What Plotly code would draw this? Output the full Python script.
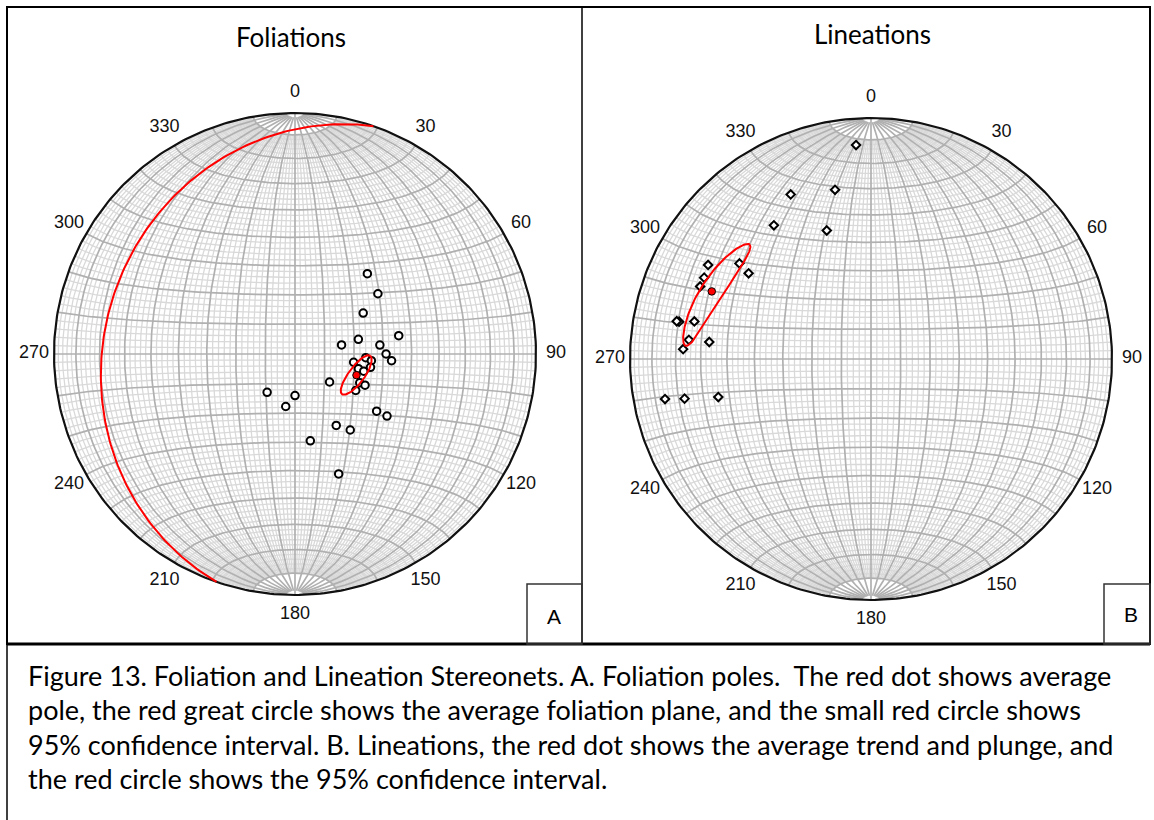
import numpy as np
import plotly.graph_objects as go

W, H = 1154, 820

# ---------------- data (trend, plunge in degrees) ----------------
fol_trend = [42, 54, 59, 80, 77, 79, 84, 90, 94, 93, 95, 98, 103, 104, 114, 114, 121, 129,
             216, 180, 190, 125, 124, 150, 144, 170, 160, 100]
fol_plunge = [53, 55, 63, 54, 68, 74, 61, 59, 57, 66, 64, 70, 68, 66, 66, 64, 66, 75,
              74, 76, 72, 56, 52, 62, 58, 60, 46, 64]
fol_mean_trend, fol_mean_plunge = 109, 68
fol_cone_major, fol_cone_minor, fol_cone_azimuth = 7.9, 2.7, 37

lin_trend = [356, 348, 334, 324, 341, 305, 306, 300, 296, 293, 281, 281, 282, 276, 276, 273,
             259, 258, 256]
lin_plunge = [12, 29, 25, 32, 43, 38, 33, 23, 24, 24, 20, 19, 26, 25, 33, 23, 14, 22, 35]
lin_mean_trend, lin_mean_plunge = 293, 29
lin_cone_major, lin_cone_minor, lin_cone_azimuth = 17.7, 4.3, 36

tick_angles = list(range(0, 360, 30))
tick_labels = [str(a) for a in tick_angles]

panel_titles = ["Foliations", "Lineations"]
panel_letters = ["A", "B"]
caption_lines = [
    "Figure 13. Foliation and Lineation Stereonets. A. Foliation poles.  The red dot shows average",
    "pole, the red great circle shows the average foliation plane, and the small red circle shows",
    "95% confidence interval. B. Lineations, the red dot shows the average trend and plunge, and",
    "the red circle shows the 95% confidence interval.",
]

# ---------------- geometry helpers (equal-area, lower hemisphere) ----------------
def vec(trend, plunge):
    t, p = np.radians(trend), np.radians(plunge)
    return np.array([np.cos(p) * np.sin(t), np.cos(p) * np.cos(t), np.sin(p)])


def project(v):
    e, n, d = v
    f = 1.0 / np.sqrt(1.0 + d)
    return e * f, n * f


def add_seg(xs, ys, x, y):
    xs.extend(list(x) + [None])
    ys.extend(list(y) + [None])


def net_lines():
    mnx, mny, mjx, mjy = [], [], [], []
    for a in range(2, 180, 2):
        al = np.radians(a)
        major = a % 10 == 0
        cut = 0 if a == 90 else (2 if major else 10)
        b = np.radians(np.linspace(-90 + cut, 90 - cut, 121))
        v = np.array([np.cos(b) * np.cos(al), np.sin(b), np.cos(b) * np.sin(al)])
        x, y = project(v)
        if major:
            add_seg(mjx, mjy, x, y)
        else:
            add_seg(mnx, mny, x, y)
    for g in range(10, 171, 2):
        gm = np.radians(g)
        al = np.radians(np.linspace(0, 180, 121))
        v = np.array([np.sin(gm) * np.cos(al), np.cos(gm) * np.ones_like(al), np.sin(gm) * np.sin(al)])
        x, y = project(v)
        if g % 10 == 0:
            add_seg(mjx, mjy, x, y)
        else:
            add_seg(mnx, mny, x, y)
    return mnx, mny, mjx, mjy


def great_circle(pole_trend, pole_plunge):
    s = np.array([np.cos(np.radians(pole_trend)), -np.sin(np.radians(pole_trend)), 0.0])
    w = vec(pole_trend + 180, 90 - pole_plunge)
    ph = np.radians(np.linspace(0, 180, 181))
    v = np.outer(s, np.cos(ph)) + np.outer(w, np.sin(ph))
    return project(v)


def cone(trend, plunge, a1, a2, azimuth):
    t, p = np.radians(trend), np.radians(plunge)
    m = vec(trend, plunge)
    r_hat = np.array([np.sin(p) * np.sin(t), np.sin(p) * np.cos(t), -np.cos(p)])
    t_hat = np.array([np.cos(t), -np.sin(t), 0.0])
    psi = np.radians(azimuth - trend)
    u1 = np.cos(psi) * r_hat + np.sin(psi) * t_hat
    u2 = -np.sin(psi) * r_hat + np.cos(psi) * t_hat
    ph = np.linspace(0, 2 * np.pi, 181)
    v = (m[:, None] + np.tan(np.radians(a1)) * np.outer(u1, np.cos(ph))
         + np.tan(np.radians(a2)) * np.outer(u2, np.sin(ph)))
    v = v / np.linalg.norm(v, axis=0)
    return project(v)


# ---------------- figure ----------------
fig = go.Figure()
nets = [
    dict(cx=295, cy=354, R=241, xa="x", ya="y",
         tr=fol_trend, pl=fol_plunge, symbol="circle", size=7.5,
         mean=(fol_mean_trend, fol_mean_plunge),
         cone=(fol_cone_major, fol_cone_minor, fol_cone_azimuth), gc=True),
    dict(cx=871, cy=359, R=241, xa="x2", ya="y2",
         tr=lin_trend, pl=lin_plunge, symbol="diamond", size=6.5,
         mean=(lin_mean_trend, lin_mean_plunge),
         cone=(lin_cone_major, lin_cone_minor, lin_cone_azimuth), gc=False),
]
mnx, mny, mjx, mjy = net_lines()
K = 1.15
th = np.linspace(0, 2 * np.pi, 361)

for i, n in enumerate(nets):
    xa, ya = n["xa"], n["ya"]
    fig.add_trace(go.Scatter(x=mnx, y=mny, mode="lines", line=dict(color="#d9d9d9", width=1.3),
                             hoverinfo="skip", xaxis=xa, yaxis=ya))
    fig.add_trace(go.Scatter(x=mjx, y=mjy, mode="lines", line=dict(color="#b0b0b0", width=1.7),
                             hoverinfo="skip", xaxis=xa, yaxis=ya))
    fig.add_trace(go.Scatter(x=np.sin(th), y=np.cos(th), mode="lines",
                             line=dict(color="#111111", width=2.2),
                             hoverinfo="skip", xaxis=xa, yaxis=ya))
    # tick labels
    ta = np.radians(tick_angles)
    fig.add_trace(go.Scatter(x=1.083 * np.sin(ta), y=1.083 * np.cos(ta), mode="text",
                             text=tick_labels, textposition="middle center",
                             textfont=dict(family="Liberation Sans, Arial", size=18, color="#111"),
                             cliponaxis=False, hoverinfo="skip", xaxis=xa, yaxis=ya))
    # data
    px_, py_ = project(vec(np.array(n["tr"]), np.array(n["pl"])))
    fig.add_trace(go.Scatter(x=px_, y=py_, mode="markers",
                             marker=dict(symbol=n["symbol"], size=n["size"], color="white",
                                         line=dict(color="black", width=2)),
                             hoverinfo="skip", xaxis=xa, yaxis=ya))
    if n["gc"]:
        gx, gy = great_circle(*n["mean"])
        fig.add_trace(go.Scatter(x=gx, y=gy, mode="lines", line=dict(color="red", width=2),
                                 hoverinfo="skip", xaxis=xa, yaxis=ya))
    cxs, cys = cone(*n["mean"], *n["cone"])
    fig.add_trace(go.Scatter(x=cxs, y=cys, mode="lines", line=dict(color="red", width=2),
                             hoverinfo="skip", xaxis=xa, yaxis=ya))
    mx, my = project(vec(*n["mean"]))
    fig.add_trace(go.Scatter(x=[mx], y=[my], mode="markers",
                             marker=dict(symbol="circle", size=7.5, color="red",
                                         line=dict(color="black", width=1)),
                             hoverinfo="skip", xaxis=xa, yaxis=ya))

def axis_cfg(cx, cy, R):
    xd = [(cx - K * R) / W, (cx + K * R) / W]
    yd = [(H - (cy + K * R)) / H, (H - (cy - K * R)) / H]
    ax = dict(range=[-K, K], visible=False, fixedrange=True)
    return dict(ax, domain=xd), dict(ax, domain=yd)

x1, y1 = axis_cfg(295, 354, 241)
x2, y2 = axis_cfg(871, 359, 241)

def PX(x):
    return x / W

def PY(y):
    return 1 - y / H

shapes = [
    dict(type="rect", xref="paper", yref="paper", x0=PX(7), x1=PX(1150), y0=PY(7), y1=PY(644),
         line=dict(color="black", width=2)),
    dict(type="line", xref="paper", yref="paper", x0=PX(582), x1=PX(582), y0=PY(7), y1=PY(644),
         line=dict(color="black", width=1.5)),
    dict(type="line", xref="paper", yref="paper", x0=PX(7), x1=PX(1150), y0=PY(644), y1=PY(644),
         line=dict(color="black", width=3)),
    dict(type="rect", xref="paper", yref="paper", x0=PX(527), x1=PX(582), y0=PY(584), y1=PY(644),
         line=dict(color="#333", width=1.5)),
    dict(type="rect", xref="paper", yref="paper", x0=PX(1104), x1=PX(1150), y0=PY(584), y1=PY(644),
         line=dict(color="#333", width=1.5)),
    dict(type="line", xref="paper", yref="paper", x0=PX(7), x1=PX(7), y0=PY(644), y1=PY(822),
         line=dict(color="black", width=1.5)),
]

ann = []
for title, (tx, ty) in zip(panel_titles, [(291, 37), (872, 34)]):
    ann.append(dict(text=title, x=PX(tx), y=PY(ty), xref="paper", yref="paper", showarrow=False,
                    xanchor="center", yanchor="middle",
                    font=dict(family="Lato", size=26, color="black")))
for letter, (tx, ty) in zip(panel_letters, [(554, 616), (1131, 614)]):
    ann.append(dict(text=letter, x=PX(tx), y=PY(ty), xref="paper", yref="paper", showarrow=False,
                    xanchor="center", yanchor="middle",
                    font=dict(family="Liberation Sans, Arial", size=21, color="black")))
for j, line in enumerate(caption_lines):
    ann.append(dict(text=line, x=PX(26), y=PY(675 + 34.5 * j), xref="paper", yref="paper",
                    showarrow=False, xanchor="left", yanchor="middle",
                    font=dict(family="Lato", size=27, color="black")))

fig.update_layout(
    width=W, height=H, autosize=False,
    margin=dict(l=0, r=0, t=0, b=0),
    paper_bgcolor="white", plot_bgcolor="white",
    showlegend=False,
    xaxis=x1, yaxis=y1, xaxis2=x2, yaxis2=y2,
    shapes=shapes, annotations=ann,
)

fig.write_html("out.html", config={"displayModeBar": False},
               post_script="document.body.style.margin='0';document.body.style.overflow='hidden';")
